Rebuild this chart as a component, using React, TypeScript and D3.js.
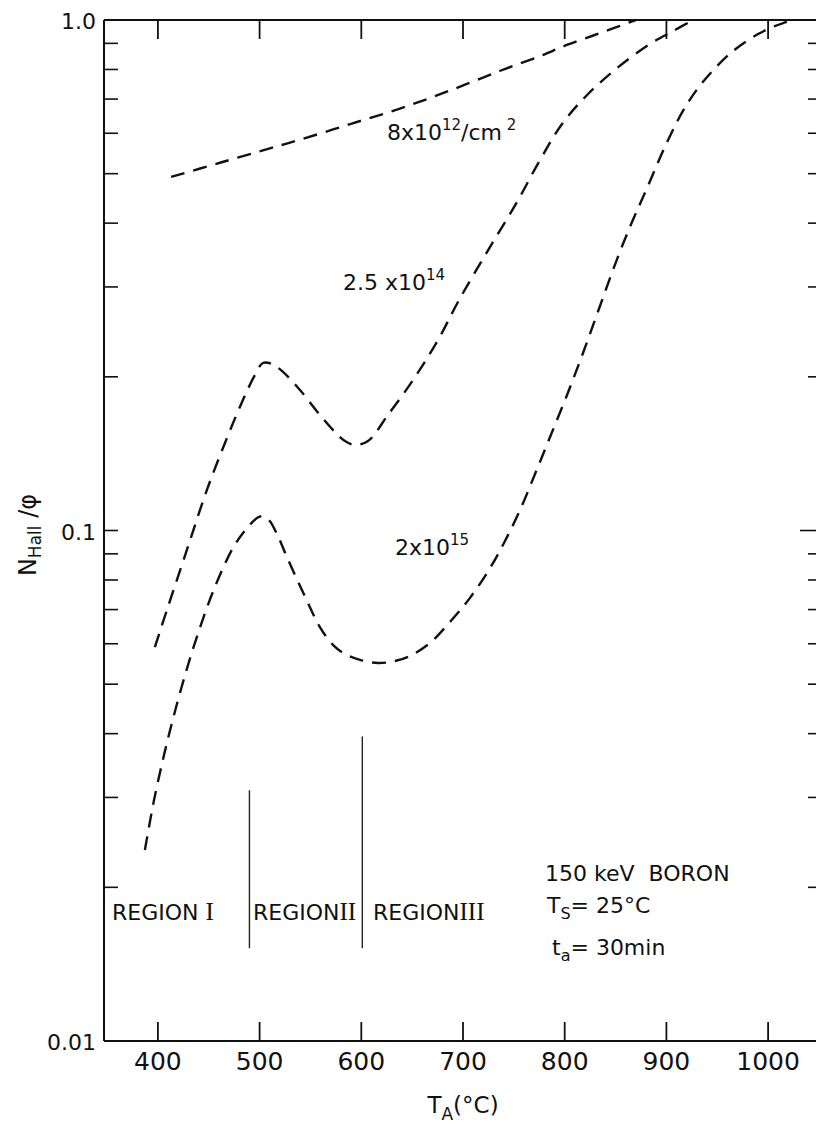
import React from 'react';
import * as d3 from 'd3';

// annealing temperature (°C) and N_Hall/phi, one pair of arrays per dose
const dose8e12T = [413, 461, 510, 540, 589, 638, 687, 736, 776, 802, 835, 870];
const dose8e12V = [0.4927, 0.5252, 0.5605, 0.583, 0.6253, 0.6706, 0.7273, 0.7945, 0.8503, 0.8934, 0.943, 1.0];

const dose25e14T = [397, 408.9, 428.5, 448.2, 467.9, 483.6, 495.4, 503.3, 512.1, 523, 539.7, 559.3, 574.1, 583.9, 593.8, 606.6, 626.2, 650.8, 675.4, 696.1, 723.6, 753.1, 775.7, 797.4, 822, 851.5, 883.9, 906.6, 926.2];
const dose25e14V = [0.0591, 0.0699, 0.0916, 0.1201, 0.1518, 0.1802, 0.2016, 0.2129, 0.2119, 0.2045, 0.1884, 0.1684, 0.1559, 0.1497, 0.1471, 0.1497, 0.1684, 0.1971, 0.2361, 0.2828, 0.3511, 0.44, 0.5317, 0.6256, 0.713, 0.8052, 0.8975, 0.9516, 1.0];

const dose2e15T = [387.2, 396.1, 405.9, 415.7, 427.5, 439.3, 454.1, 473.8, 487.5, 500.3, 508.2, 517, 526.9, 546.6, 559.3, 572.1, 583.9, 598.7, 616.4, 633.1, 647.9, 667.5, 687.2, 706.9, 726.6, 741.3, 756.1, 770.8, 785.6, 802.3, 818, 834.7, 851.5, 866.2, 881, 900.7, 920.3, 940, 965.6, 992.1, 1014.8, 1026.6];
const dose2e15V = [0.02366, 0.02958, 0.03624, 0.04341, 0.05277, 0.06272, 0.0758, 0.09245, 0.101, 0.1065, 0.1053, 0.0985, 0.0887, 0.0728, 0.0647, 0.0597, 0.0573, 0.0558, 0.055, 0.0555, 0.0568, 0.0602, 0.0662, 0.0738, 0.0844, 0.0954, 0.1097, 0.129, 0.1525, 0.1843, 0.2227, 0.2753, 0.3402, 0.402, 0.4688, 0.5768, 0.6845, 0.7731, 0.8695, 0.943, 0.9865, 1.0];

// region boundaries
const regionT = [490, 601];
const regionTop = [0.031, 0.0395];
const regionBottom = 0.0152;

const xTickValues = [400, 500, 600, 700, 800, 900, 1000];
const yLabelValues = [1, 0.1, 0.01];
const yLabelText = ['1.0', '0.1', '0.01'];

const W = 816;
const H = 1126;
const FONT = '"DejaVu Sans", sans-serif';
const SERIF = '"Liberation Serif", serif';

const x = d3.scaleLinear().domain([347, 1053]).range([104, 822]);
const y = d3.scaleLog().domain([0.01, 1]).range([1041, 20]);

const line = d3
  .line<[number, number]>()
  .x(d => x(d[0]))
  .y(d => y(d[1]))
  .curve(d3.curveCatmullRom.alpha(0.5));

const zip = (ts: number[], vs: number[]) => ts.map((t, i) => [t, vs[i]] as [number, number]);

const curves = [
  zip(dose8e12T, dose8e12V),
  zip(dose25e14T, dose25e14V),
  zip(dose2e15T, dose2e15V)
];

export default function App() {
  const [x0, x1] = x.range();
  const [yb, yt] = y.range();
  const yTicks = y.ticks().filter(v => v > 0.01 && v < 1);
  const isMajor = (v: number) => Math.abs(Math.log10(v) - Math.round(Math.log10(v))) < 1e-6;

  return (
    <svg width={W} height={H} style={{ position: 'absolute', left: 0, top: 0, background: '#fff', overflow: 'hidden' }}
      fontFamily={FONT}>
      <rect width={W} height={H} fill="#fff" />

      {/* frame: right spine falls just outside the picture */}
      <g stroke="#111" strokeWidth={2} fill="none">
        <line x1={x0} x2={x1} y1={yt} y2={yt} />
        <line x1={x0} x2={x1} y1={yb} y2={yb} />
        <line x1={x0} x2={x0} y1={yt} y2={yb} />
      </g>

      {/* x ticks top and bottom */}
      <g stroke="#111" strokeWidth={1.8}>
        {xTickValues.map(t => (
          <g key={t}>
            <line x1={x(t)} x2={x(t)} y1={yb} y2={yb - 19} />
            <line x1={x(t)} x2={x(t)} y1={yt} y2={yt + 19} />
          </g>
        ))}
      </g>

      {/* y ticks left and right */}
      <g stroke="#111" strokeWidth={1.6}>
        {yTicks.map(v => (
          <g key={v}>
            <line x1={x0} x2={x0 + 14} y1={y(v)} y2={y(v)} />
            <line x1={x1} x2={x1 - (isMajor(v) ? 22 : 14)} y1={y(v)} y2={y(v)} />
          </g>
        ))}
      </g>

      {/* x tick labels */}
      <g fontSize={25} textAnchor="middle" fill="#111">
        {xTickValues.map(t => (
          <text key={t} x={x(t)} y={yb + 29}>{t}</text>
        ))}
      </g>

      {/* y tick labels */}
      <g fontSize={22} textAnchor="end" fill="#111">
        {yLabelValues.map((v, i) => (
          <text key={v} x={x0 - 8} y={y(v) + 9}>{yLabelText[i]}</text>
        ))}
      </g>

      {/* axis titles */}
      <text x={463} y={1113} fontSize={23} textAnchor="middle" fill="#111">
        T<tspan fontSize={17} dy={7}>A</tspan><tspan dy={-7}>(°C)</tspan>
      </text>
      <text transform="translate(36,535) rotate(-90)" fontSize={24} textAnchor="middle" fill="#111">
        N<tspan fontSize={17} dy={5}>Hall</tspan><tspan dy={-5}> /φ</tspan>
      </text>

      {/* curves */}
      <g fill="none" stroke="#111" strokeWidth={2.4} strokeDasharray="14 9">
        {curves.map((c, i) => (
          <path key={i} d={line(c) || ''} />
        ))}
      </g>

      {/* region boundaries */}
      <g stroke="#222" strokeWidth={1.4}>
        {regionT.map((t, i) => (
          <line key={t} x1={x(t)} x2={x(t)} y1={y(regionTop[i])} y2={y(regionBottom)} />
        ))}
      </g>

      {/* curve labels */}
      <g fontSize={22} fill="#111">
        <text x={387} y={140}>
          8x10<tspan fontSize={15} dy={-10}>12</tspan><tspan dy={10}>/cm</tspan><tspan fontSize={15} dy={-10}> 2</tspan>
        </text>
        <text x={343} y={290}>
          2.5 x10<tspan fontSize={15} dy={-10}>14</tspan>
        </text>
        <text x={395} y={555}>
          2x10<tspan fontSize={15} dy={-10}>15</tspan>
        </text>
      </g>

      {/* region labels */}
      <g fontSize={22} fill="#111">
        <text x={112} y={920}>REGION <tspan fontFamily={SERIF} fontSize={25}> I</tspan></text>
        <text x={253} y={920}>REGION<tspan fontFamily={SERIF} fontSize={25}>II</tspan></text>
        <text x={373} y={920}>REGION<tspan fontFamily={SERIF} fontSize={25}>III</tspan></text>
      </g>

      {/* experiment conditions */}
      <g fontSize={22} fill="#111">
        <text x={545} y={881} xmlSpace="preserve">150 keV  BORON</text>
        <text x={547} y={913}>
          T<tspan fontSize={16} dy={6}>S</tspan><tspan dy={-6}>= 25°C</tspan>
        </text>
        <text x={552} y={955}>
          t<tspan fontSize={16} dy={6}>a</tspan><tspan dy={-6}>= 30min</tspan>
        </text>
      </g>
    </svg>
  );
}
